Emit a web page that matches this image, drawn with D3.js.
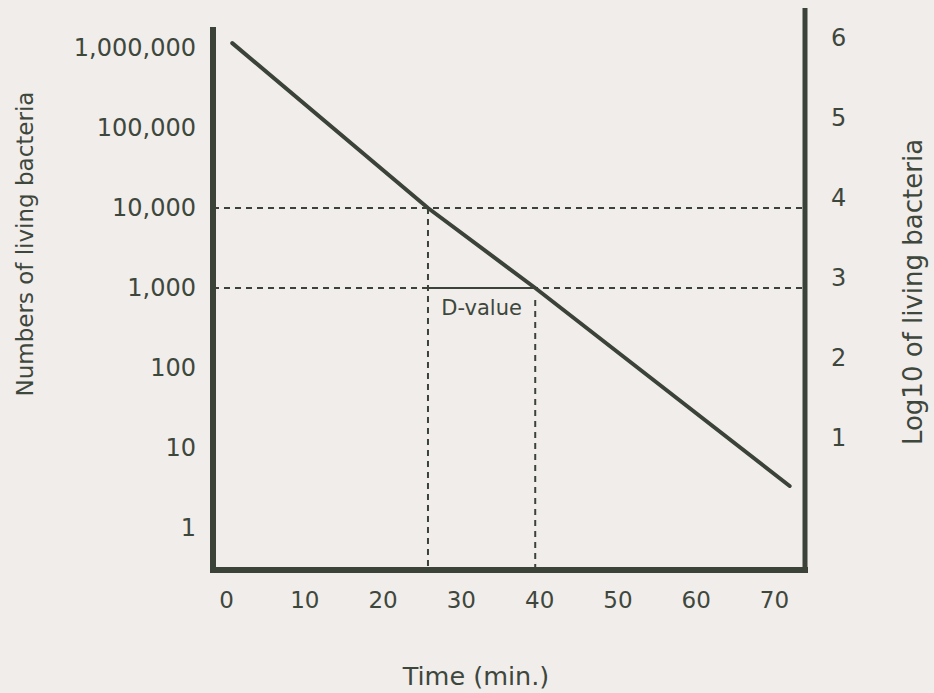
<!DOCTYPE html>
<html><head><meta charset="utf-8">
<script src="https://cdn.jsdelivr.net/npm/d3@7"></script>
<style>html,body{margin:0;padding:0;background:#f1edeb;} svg{display:block;}</style>
</head><body>
<svg id="chart" width="934" height="693"></svg>
<script>
// ---- data ----
const timeTicks = [0, 10, 20, 30, 40, 50, 60, 70];
const countTicks = [1, 10, 100, 1000, 10000, 100000, 1000000];
const countTickLabels = ["1", "10", "100", "1,000", "10,000", "100,000", "1,000,000"];
const log10Ticks = [1, 2, 3, 4, 5, 6];
const survivalTime = [0.8, 25.8, 39.5, 72.0];
const survivalCount = [1150000, 10000, 1000, 3.35];
const dValueTimes = [25.8, 39.5];
const dValueCounts = [10000, 1000];
const dValueLabel = "D-value";
const xTitle = "Time (min.)";
const yTitle = "Numbers of living bacteria";
const y2Title = "Log10 of living bacteria";

// ---- layout ----
const ink = "#3b4338";
const textInk = "#3e473c";
const font = "'DejaVu Sans', Verdana, sans-serif";
const frame = {left: 213, right: 805, bottom: 570, leftTop: 27, rightTop: 8};

const svg = d3.select("#chart");
svg.append("rect").attr("width", 934).attr("height", 693).attr("fill", "#f1edeb");

const x = d3.scaleLinear().domain([0, 70]).range([226, 774]);
const y = d3.scaleLog().domain([1, 1e6]).range([528, 48]);
const y2 = d3.scaleLinear().domain([1, 6]).range([437.6, 37.4]);

// dashed guide lines
const g = svg.append("g");
dValueCounts.forEach((c, i) => {
  g.append("line")
    .attr("x1", frame.left).attr("x2", frame.right)
    .attr("y1", y(c)).attr("y2", y(c))
    .attr("stroke", ink).attr("stroke-width", 2).attr("stroke-dasharray", "6,5");
  g.append("line")
    .attr("x1", x(dValueTimes[i])).attr("x2", x(dValueTimes[i]))
    .attr("y1", y(c) + (i === 0 ? 0 : 12)).attr("y2", frame.bottom)
    .attr("stroke", ink).attr("stroke-width", 2).attr("stroke-dasharray", "6,5");
});
// D-value solid segment
g.append("line")
  .attr("x1", x(dValueTimes[0])).attr("x2", x(dValueTimes[1]))
  .attr("y1", y(dValueCounts[1])).attr("y2", y(dValueCounts[1]))
  .attr("stroke", ink).attr("stroke-width", 2);
g.append("text")
  .attr("x", (x(dValueTimes[0]) + x(dValueTimes[1])) / 2)
  .attr("y", y(dValueCounts[1]) + 27)
  .attr("text-anchor", "middle")
  .attr("font-family", font).attr("font-size", 21).attr("fill", textInk)
  .text(dValueLabel);

// survival line
const pts = survivalTime.map((t, i) => [t, survivalCount[i]]);
svg.append("path")
  .datum(pts)
  .attr("d", d3.line().x(d => x(d[0])).y(d => y(d[1])))
  .attr("fill", "none").attr("stroke", ink).attr("stroke-width", 4)
  .attr("stroke-linecap", "round").attr("stroke-linejoin", "round");

// frame
svg.append("path")
  .attr("d", `M${frame.left},${frame.leftTop}V${frame.bottom}H${frame.right + 3}`)
  .attr("fill", "none").attr("stroke", ink).attr("stroke-width", 6);
svg.append("line")
  .attr("x1", frame.right).attr("x2", frame.right)
  .attr("y1", frame.rightTop).attr("y2", frame.bottom + 3)
  .attr("stroke", ink).attr("stroke-width", 5);

// axes
function styleAxis(sel, size) {
  sel.select(".domain").remove();
  sel.selectAll(".tick line").remove();
  sel.selectAll("text").attr("font-family", font).attr("font-size", size).attr("fill", textInk);
}
svg.append("g").attr("transform", `translate(${frame.left},0)`)
  .call(d3.axisLeft(y).tickValues(countTicks).tickFormat((d, i) => countTickLabels[i]).tickSize(0).tickPadding(17))
  .call(s => styleAxis(s, 24));
svg.append("g").attr("transform", `translate(${frame.right},0)`)
  .call(d3.axisRight(y2).tickValues(log10Ticks).tickFormat(d3.format("d")).tickSize(0).tickPadding(26))
  .call(s => styleAxis(s, 24));
svg.append("g").attr("transform", `translate(0,${frame.bottom})`)
  .call(d3.axisBottom(x).tickValues(timeTicks).tickFormat(d3.format("d")).tickSize(0).tickPadding(22))
  .call(s => styleAxis(s, 23));

// titles
svg.append("text").attr("x", 476).attr("y", 685).attr("text-anchor", "middle")
  .attr("font-family", font).attr("font-size", 25.5).attr("fill", textInk).text(xTitle);
svg.append("text").attr("transform", "translate(33,244) rotate(-90)").attr("text-anchor", "middle")
  .attr("font-family", font).attr("font-size", 23).attr("fill", textInk).text(yTitle);
svg.append("text").attr("transform", "translate(922,292) rotate(-90)").attr("text-anchor", "middle")
  .attr("font-family", font).attr("font-size", 26).attr("fill", textInk).text(y2Title);
</script>
</body></html>
